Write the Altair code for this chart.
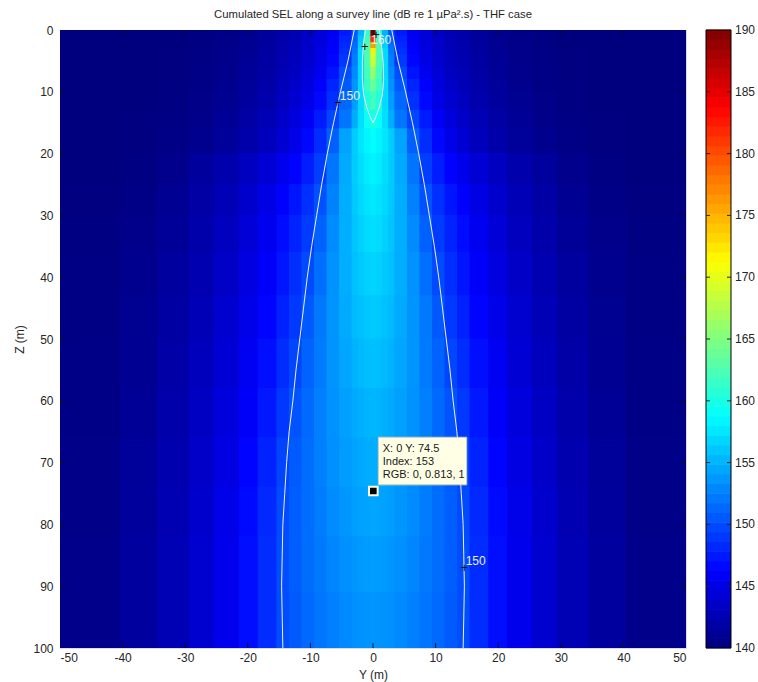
import altair as alt
import pandas as pd

# ---------------- data ----------------
TITLE = "Cumulated SEL along a survey line (dB re 1 \u00b5Pa\u00b2.s) - THF case"

# depth cell edges (m)
Z_EDGES = [0, 1, 2, 3, 4, 6, 8, 10, 13, 16, 20, 25, 30, 36, 43, 50, 58, 66, 74, 82, 91, 100]
# half-side column outer edges (m); first column spans [-0.5, 0.5], mirrored on both sides
Y_EDGES = [0.5, 1.5, 2.5, 3.5, 5.5, 7.5, 9.5, 11.5, 13.5, 15.5, 18.5, 21.5, 25.5, 29.5, 34.5, 40.5, 50]

# SEL (dB) per depth row, per half-side column (centre -> edge)
SEL = [
    [190.0, 161.0, 155.0, 150.5, 147.5, 145.5, 144.3, 143.3, 142.5, 142.0, 141.3, 140.8, 140.4, 140.2, 140.0, 140.0, 140.0],
    [182.0, 162.0, 156.0, 151.0, 148.0, 145.8, 144.5, 143.5, 142.7, 142.1, 141.4, 140.9, 140.5, 140.2, 140.0, 140.0, 140.0],
    [176.0, 162.5, 156.5, 151.5, 148.3, 146.0, 144.7, 143.6, 142.8, 142.2, 141.5, 141.0, 140.5, 140.2, 140.0, 140.0, 140.0],
    [172.0, 162.5, 157.0, 152.0, 148.6, 146.2, 144.8, 143.7, 142.9, 142.3, 141.6, 141.0, 140.6, 140.3, 140.1, 140.0, 140.0],
    [169.0, 162.5, 157.0, 152.5, 149.0, 146.5, 145.0, 143.9, 143.0, 142.4, 141.7, 141.1, 140.6, 140.3, 140.1, 140.0, 140.0],
    [166.0, 162.0, 157.0, 153.0, 150.0, 147.2, 145.5, 144.3, 143.3, 142.6, 141.8, 141.2, 140.7, 140.4, 140.1, 140.0, 140.0],
    [164.0, 161.5, 157.0, 153.5, 150.6, 148.0, 146.1, 144.7, 143.6, 142.8, 142.0, 141.3, 140.8, 140.4, 140.2, 140.0, 140.0],
    [162.0, 160.5, 157.0, 154.0, 151.3, 148.6, 146.6, 145.1, 144.0, 143.1, 142.2, 141.5, 140.9, 140.5, 140.2, 140.0, 140.0],
    [160.0, 159.3, 157.2, 154.8, 152.0, 149.7, 147.5, 145.8, 144.6, 143.6, 142.6, 141.8, 141.1, 140.6, 140.3, 140.1, 140.0],
    [158.8, 158.3, 157.5, 156.3, 154.3, 150.9, 148.4, 146.6, 145.2, 144.1, 143.0, 142.1, 141.3, 140.8, 140.4, 140.1, 140.0],
    [158.2, 157.8, 157.1, 156.2, 154.6, 152.0, 149.3, 147.6, 146.3, 145.3, 144.2, 143.2, 142.2, 141.4, 140.7, 140.2, 140.0],
    [157.7, 157.4, 156.9, 156.1, 154.8, 152.6, 150.2, 148.6, 147.3, 146.2, 145.0, 143.8, 142.7, 141.8, 141.0, 140.4, 140.1],
    [157.2, 157.0, 156.5, 155.9, 154.8, 153.1, 151.0, 149.2, 147.9, 146.8, 145.5, 144.3, 143.1, 142.1, 141.2, 140.6, 140.2],
    [156.7, 156.5, 156.1, 155.7, 154.8, 153.4, 151.7, 149.9, 148.5, 147.3, 146.0, 144.8, 143.5, 142.4, 141.5, 140.8, 140.3],
    [156.2, 156.0, 155.7, 155.4, 154.6, 153.5, 152.2, 150.6, 149.0, 147.8, 146.4, 145.2, 143.9, 142.7, 141.7, 140.9, 140.3],
    [155.7, 155.6, 155.3, 155.0, 154.4, 153.5, 152.3, 151.1, 149.7, 148.4, 146.9, 145.6, 144.2, 143.0, 141.9, 141.0, 140.4],
    [155.2, 155.1, 154.9, 154.6, 154.1, 153.4, 152.5, 151.4, 150.3, 149.0, 147.4, 146.0, 144.6, 143.3, 142.1, 141.1, 140.4],
    [154.8, 154.7, 154.5, 154.3, 153.9, 153.3, 152.5, 151.6, 150.7, 149.6, 147.9, 146.4, 144.9, 143.6, 142.3, 141.3, 140.5],
    [154.4, 154.3, 154.2, 154.0, 153.6, 153.1, 152.4, 151.6, 150.8, 149.9, 148.2, 146.7, 145.2, 143.8, 142.5, 141.4, 140.5],
    [154.0, 153.9, 153.8, 153.6, 153.3, 152.8, 152.2, 151.6, 150.8, 150.0, 148.4, 146.9, 145.3, 143.9, 142.6, 141.5, 140.6],
    [153.6, 153.5, 153.4, 153.3, 153.0, 152.5, 152.0, 151.4, 150.7, 150.0, 148.4, 146.9, 145.3, 143.9, 142.6, 141.5, 140.6],
]

# 150 dB contour (right branch; left branch is its mirror)
C150_Z = [0, 5, 10, 15, 20, 25, 30, 35, 40, 45, 50, 55, 60, 65, 70, 75, 80, 85, 90, 95, 100]
C150_Y = [3.0, 4.0, 5.2, 6.3, 7.3, 8.2, 9.0, 9.8, 10.5, 11.1, 11.7, 12.3, 12.8, 13.4, 13.8, 14.1, 14.4, 14.5, 14.6, 14.5, 14.4]
# 160 dB contour (closed at the surface)
C160_Y = [-1.2, -1.5, -1.7, -1.7, -1.5, -1.0, -0.4, 0.0, 0.4, 1.0, 1.5, 1.7, 1.6, 1.3, 1.0]
C160_Z = [0, 2, 5, 8, 10.5, 12.5, 14.2, 15, 14.2, 12.5, 10.5, 8, 5, 2, 0]

# contour labels and their "+" markers
CLABEL_TEXT = ["160", "150", "150"]
CLABEL_Y = [1.3, -3.7, 16.4]
CLABEL_Z = [1.6, 10.7, 85.9]
PLUS_Y = [0.5, -1.3, -5.6, 14.6]
PLUS_Z = [0.8, 2.7, 11.8, 87.0]

# data tip
TIP_Y, TIP_Z = 0.05, 74.6
TIP_LINES = ["X: 0 Y: 74.5", "Index: 153", "RGB: 0, 0.813, 1"]
TIP_BOX = (0.85, 14.97, 65.9, 73.6)
TIP_TEXT_Y = 1.55
TIP_TEXT_Z = [67.8, 69.9, 72.0]

# colour scale (jet, 140..190)
CB_TICKS = [140, 145, 150, 155, 160, 165, 170, 175, 180, 185, 190]
JET_DOMAIN = [140, 146.25, 158.75, 171.25, 183.75, 190]
JET_RANGE = ["#00007F", "#0000FF", "#00FFFF", "#FFFF00", "#FF0000", "#7F0000"]

# ---------------- layout ----------------
W, H = 626, 618
PAD = {"left": 60, "top": 30, "right": 758 - 60 - 626, "bottom": 682 - 30 - 618}
PX_X = 100.0 / W      # metres per pixel, horizontal
PX_Z = 100.0 / H      # metres per pixel, vertical
CB_X0 = -50 + (706 - 60) * PX_X
CB_X1 = -50 + (731 - 60) * PX_X
CB_LAB_X = -50 + (735 - 60) * PX_X
TXT = "#262626"
FONT = "Liberation Sans"
EPS = 0.08  # small overlap between neighbouring cells to hide anti-aliasing seams

# ---------------- tables ----------------
cells = []
for i, row in enumerate(SEL):
    z0, z1 = Z_EDGES[i] - EPS, Z_EDGES[i + 1] + EPS
    for k, v in enumerate(row):
        if k == 0:
            cells.append(dict(ya=-0.5 - EPS, yb=0.5 + EPS, za=z0, zb=z1, v=v))
        else:
            a, b = Y_EDGES[k - 1], Y_EDGES[k]
            cells.append(dict(ya=a - EPS, yb=b + EPS, za=z0, zb=z1, v=v))
            cells.append(dict(ya=-b - EPS, yb=-a + EPS, za=z0, zb=z1, v=v))
cells = pd.DataFrame(cells)
cells["ya"] = cells["ya"].clip(-50, 50)
cells["yb"] = cells["yb"].clip(-50, 50)
cells["za"] = cells["za"].clip(0, 100)
cells["zb"] = cells["zb"].clip(0, 100)

cont = []
for j, (z, y) in enumerate(zip(C150_Z, C150_Y)):
    cont.append(dict(Y=y, Z=z, line="r150", o=j))
    cont.append(dict(Y=-y, Z=z, line="l150", o=j))
for j, (y, z) in enumerate(zip(C160_Y, C160_Z)):
    cont.append(dict(Y=y, Z=z, line="c160", o=j))
cont = pd.DataFrame(cont)

NB = 64
cb = []
for j in range(NB):
    va = 140 + j * 50.0 / NB
    vb = 140 + (j + 1) * 50.0 / NB
    cb.append(dict(xa=CB_X0, xb=CB_X1, za=100 - (va - 140) * 2 + 0.05, zb=100 - (vb - 140) * 2 - 0.05, v=(va + vb) / 2))
cb = pd.DataFrame(cb)

cb_lab = pd.DataFrame(dict(x=[CB_LAB_X] * len(CB_TICKS), z=[100 - (t - 140) * 2 for t in CB_TICKS],
                           t=[str(t) for t in CB_TICKS]))
tick_len_x = 4 * PX_X
cb_ticks = []
for t in CB_TICKS[1:-1]:
    z = 100 - (t - 140) * 2
    cb_ticks.append(dict(xa=CB_X0, xb=CB_X0 + tick_len_x, za=z, zb=z))
    cb_ticks.append(dict(xa=CB_X1 - tick_len_x, xb=CB_X1, za=z, zb=z))
cb_ticks = pd.DataFrame(cb_ticks)

# inward axis ticks on all four sides
TL_X = 5 * PX_X
TL_Z = 5 * PX_Z
ax_ticks = []
for t in range(-40, 50, 10):
    ax_ticks.append(dict(xa=t, xb=t, za=100 - TL_Z, zb=100))
    ax_ticks.append(dict(xa=t, xb=t, za=0, zb=TL_Z))
for t in range(10, 100, 10):
    ax_ticks.append(dict(xa=-50, xb=-50 + TL_X, za=t, zb=t))
    ax_ticks.append(dict(xa=50 - TL_X, xb=50, za=t, zb=t))
ax_ticks = pd.DataFrame(ax_ticks)

clabels = pd.DataFrame(dict(Y=CLABEL_Y, Z=CLABEL_Z, t=CLABEL_TEXT))
pluses = pd.DataFrame(dict(Y=PLUS_Y, Z=PLUS_Z))
tipbox = pd.DataFrame([dict(ya=TIP_BOX[0], yb=TIP_BOX[1], za=TIP_BOX[2], zb=TIP_BOX[3])])
tiptext = pd.DataFrame(dict(Y=[TIP_TEXT_Y] * 3, Z=TIP_TEXT_Z, t=TIP_LINES))
tippt = pd.DataFrame(dict(Y=[TIP_Y], Z=[TIP_Z]))
frame_cb = pd.DataFrame([dict(xa=CB_X0, xb=CB_X1, za=0, zb=100)])

# ---------------- scales & axes ----------------
XS = alt.Scale(domain=[-50, 50], nice=False, zero=False)
YS = alt.Scale(domain=[0, 100], nice=False, zero=False, reverse=True)
CS = alt.Scale(domain=JET_DOMAIN, range=JET_RANGE, interpolate="rgb", clamp=True)

x_axis = alt.Axis(values=list(range(-50, 51, 10)), title="Y (m)", ticks=False, domain=False, grid=False,
                  labelExpr="'' + datum.value",
                  labelFontSize=12, labelColor=TXT, labelPadding=4, titleFontSize=12,
                  titleFontWeight="normal", titleColor=TXT, titlePadding=6, labelFont=FONT, titleFont=FONT)
y_axis = alt.Axis(values=list(range(0, 101, 10)), title="Z (m)", ticks=False, domain=False, grid=False,
                  labelFontSize=12, labelColor=TXT, labelPadding=7, titleFontSize=12,
                  titleFontWeight="normal", titleColor=TXT, titlePadding=6, labelFont=FONT, titleFont=FONT)


def X(f):
    return alt.X(f, type="quantitative", scale=XS, axis=x_axis)


def Y(f):
    return alt.Y(f, type="quantitative", scale=YS, axis=y_axis)


heat = alt.Chart(cells).mark_rect(strokeWidth=0).encode(
    x=X("ya"), x2="yb", y=Y("za"), y2="zb",
    fill=alt.Fill("v:Q", scale=CS, legend=None),
)

lines = alt.Chart(cont).mark_line(color="#F0F0F0", strokeWidth=1).encode(
    x=X("Y"), y=Y("Z"), detail="line:N", order="o:Q"
)

clab = alt.Chart(clabels).mark_text(color="#EDEDED", fontSize=12, font=FONT, baseline="middle", align="center").encode(
    x=X("Y"), y=Y("Z"), text="t:N"
)

plus = alt.Chart(pluses).mark_text(text="+", color="#111111", fontSize=13, font=FONT, baseline="middle",
                                   align="center").encode(x=X("Y"), y=Y("Z"))

box = alt.Chart(tipbox).mark_rect(fill="#FFFFE6", stroke="#CFCFB8", strokeWidth=1).encode(
    x=X("ya"), x2="yb", y=Y("za"), y2="zb"
)
boxtext = alt.Chart(tiptext).mark_text(color="#1A1A1A", fontSize=11, font=FONT, align="left",
                                       baseline="middle").encode(x=X("Y"), y=Y("Z"), text="t:N")
tipmark = alt.Chart(tippt).mark_point(shape="square", filled=True, size=75, fill="black", stroke="#FFFFE6",
                                      strokeWidth=2, opacity=1).encode(x=X("Y"), y=Y("Z"))

cbar = alt.Chart(cb).mark_rect(strokeWidth=0).encode(
    x=X("xa"), x2="xb", y=Y("za"), y2="zb",
    fill=alt.Fill("v:Q", scale=CS, legend=None),
)
cbframe = alt.Chart(frame_cb).mark_rect(fill=None, stroke="black", strokeWidth=1).encode(
    x=X("xa"), x2="xb", y=Y("za"), y2="zb"
)
cbt = alt.Chart(cb_ticks).mark_rule(color="#222222", strokeWidth=1).encode(
    x=X("xa"), x2="xb", y=Y("za"), y2="zb"
)
cbl = alt.Chart(cb_lab).mark_text(color=TXT, fontSize=12, font=FONT, align="left", baseline="middle").encode(
    x=X("x"), y=Y("z"), text="t:N"
)
axt = alt.Chart(ax_ticks).mark_rule(color="#111111", strokeWidth=1).encode(
    x=X("xa"), x2="xb", y=Y("za"), y2="zb"
)

chart = alt.layer(heat, lines, clab, plus, axt, box, boxtext, tipmark, cbar, cbframe, cbt, cbl).properties(
    width=W, height=H,
    autosize=alt.AutoSizeParams(type="none"),
    padding=PAD,
    title=alt.TitleParams(TITLE, fontSize=11.3, fontWeight="normal", color=TXT, font=FONT, anchor="middle", offset=4),
    background="white",
).configure_view(stroke="black", strokeWidth=1).configure(font=FONT)

chart.save("out.html", embed_options={"renderer": "svg", "actions": False})
